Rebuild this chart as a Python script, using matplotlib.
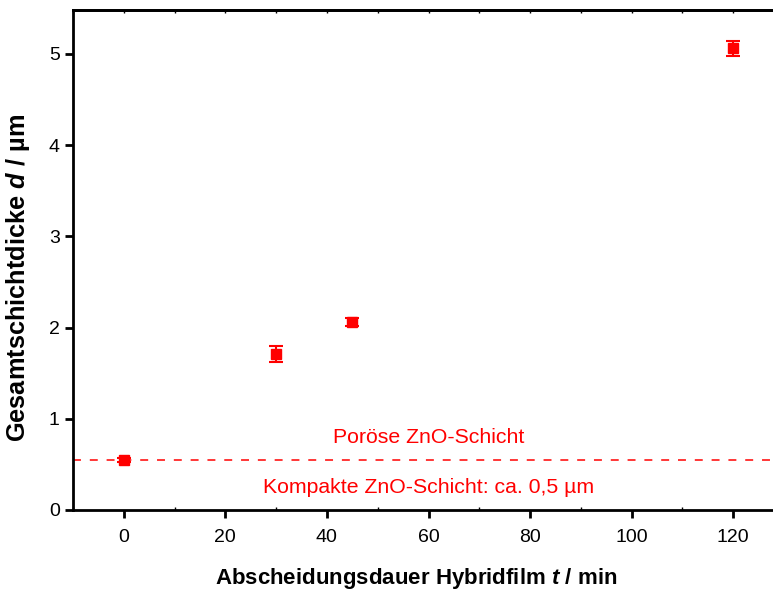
import matplotlib.pyplot as plt
from matplotlib.ticker import MultipleLocator

plt.rcParams['font.family'] = ['Liberation Sans', 'DejaVu Sans']
plt.rcParams['mathtext.fontset'] = 'custom'
plt.rcParams['mathtext.bfit'] = 'Liberation Sans:italic:bold'
plt.rcParams['mathtext.rm'] = 'Liberation Sans'

# Messwerte
dauer = [0, 30, 45, 120]
dicke = [0.55, 1.71, 2.06, 5.06]
fehler = [0.02, 0.09, 0.04, 0.08]
kompakt = 0.55

fig = plt.figure(figsize=(7.73, 5.90), dpi=100)
ax = fig.add_axes([73 / 773, 80 / 590, 711 / 773, 500 / 590])

ax.errorbar(dauer, dicke, yerr=fehler, fmt='s', color='red', markersize=6.5,
            capsize=4.7, elinewidth=1.5, capthick=1.5, zorder=3)
ax.axhline(kompakt, color='red', linestyle=(0, (5.2, 5.8)), linewidth=1.1)

ax.text(60, kompakt + 0.25, 'Poröse ZnO-Schicht', color='red', fontsize=15.3,
        ha='center', va='center')
ax.text(60, kompakt - 0.30, 'Kompakte ZnO-Schicht: ca. 0,5 µm', color='red',
        fontsize=15.3, ha='center', va='center')

ax.set_xlim(-10, 130)
ax.set_ylim(0, 5.48)
ax.xaxis.set_major_locator(MultipleLocator(20))
ax.xaxis.set_minor_locator(MultipleLocator(10))
ax.yaxis.set_major_locator(MultipleLocator(1))

for s in ['left', 'bottom', 'top']:
    ax.spines[s].set_linewidth(2)
ax.spines['right'].set_visible(False)

ax.tick_params(axis='both', which='major', direction='out', length=6, width=2,
               labelsize=14, colors='black')
ax.tick_params(axis='x', which='major', pad=8)
ax.tick_params(axis='x', which='minor', direction='in', length=2.5, width=1)
ax.tick_params(axis='y', which='both', right=False)

# kleine Striche an der oberen Achse
top = ax.secondary_xaxis('top')
top.xaxis.set_major_locator(MultipleLocator(10))
top.tick_params(direction='in', length=2.5, width=1, labeltop=False)
top.spines['top'].set_linewidth(2)

ax.set_xlabel(r'Abscheidungsdauer Hybridfilm $\mathbfit{t}$ / min', fontsize=16,
              fontweight='bold')
ax.set_ylabel(r'Gesamtschichtdicke $\mathbfit{d}$ / µm', fontsize=18.3,
              fontweight='bold')
ax.xaxis.set_label_coords(0.482, -0.112)
ax.yaxis.set_label_coords(-0.057, 0.465)

fig.savefig('out.png', dpi=100)
